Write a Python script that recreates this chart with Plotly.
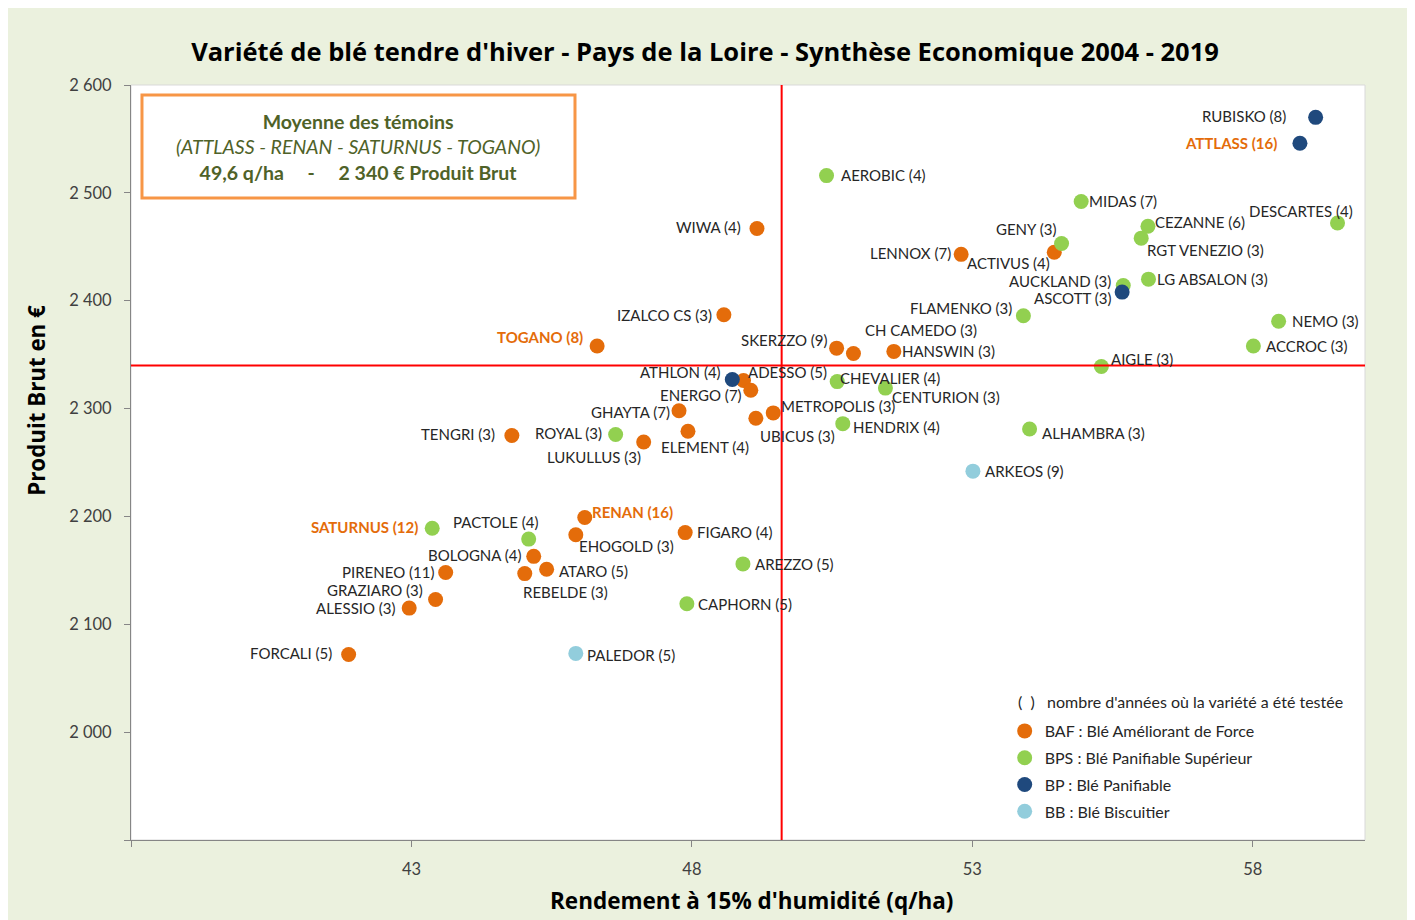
import plotly.graph_objects as go

# ---------------- DATA ----------------
BAF_NAMES = ["WIWA", "IZALCO CS", "TOGANO", "LENNOX", "ACTIVUS", "SKERZZO", "CH CAMEDO",
             "HANSWIN", "ADESSO", "ENERGO", "GHAYTA", "METROPOLIS", "UBICUS", "ELEMENT",
             "LUKULLUS", "TENGRI", "RENAN", "EHOGOLD", "FIGARO", "BOLOGNA", "ATARO",
             "REBELDE", "PIRENEO", "GRAZIARO", "ALESSIO", "FORCALI"]
BAF_YEARS = [4, 3, 8, 7, 4, 9, 3, 3, 5, 7, 7, 3, 3, 4, 3, 3, 16, 3, 4, 4, 5, 3, 11, 3, 3, 5]
BAF_YIELD = [49.16, 48.57, 46.31, 52.80, 54.46, 50.58, 50.88, 51.60, 48.92, 49.05, 47.77,
             49.45, 49.14, 47.93, 47.14, 44.79, 46.09, 45.93, 47.88, 45.18, 45.41, 45.02,
             43.61, 43.43, 42.96, 41.88]
BAF_PB = [2467, 2387, 2358, 2443, 2445, 2356, 2351, 2353, 2326, 2317, 2298, 2296, 2291,
          2279, 2269, 2275, 2199, 2183, 2185, 2163, 2151, 2147, 2148, 2123, 2115, 2072]

BPS_NAMES = ["AEROBIC", "MIDAS", "DESCARTES", "CEZANNE", "RGT VENEZIO", "GENY", "LG ABSALON",
             "AUCKLAND", "FLAMENKO", "NEMO", "ACCROC", "AIGLE", "CHEVALIER", "CENTURION",
             "HENDRIX", "ALHAMBRA", "ROYAL", "SATURNUS", "PACTOLE", "AREZZO", "CAPHORN"]
BPS_YEARS = [4, 7, 4, 6, 3, 3, 3, 3, 3, 3, 3, 3, 4, 3, 4, 3, 3, 12, 4, 5, 5]
BPS_YIELD = [50.40, 54.94, 59.51, 56.13, 56.01, 54.59, 56.14, 55.69, 53.91, 58.46, 58.01,
             55.30, 50.59, 51.45, 50.69, 54.02, 46.64, 43.37, 45.09, 48.91, 47.91]
BPS_PB = [2516, 2492, 2472, 2469, 2458, 2453, 2420, 2414, 2386, 2381, 2358, 2339, 2325,
          2319, 2286, 2281, 2276, 2189, 2179, 2156, 2119]

BP_NAMES = ["RUBISKO", "ATTLASS", "ASCOTT", "ATHLON"]
BP_YEARS = [8, 16, 3, 4]
BP_YIELD = [59.12, 58.84, 55.67, 48.72]
BP_PB = [2570, 2546, 2408, 2327]

BB_NAMES = ["ARKEOS", "PALEDOR"]
BB_YEARS = [9, 5]
BB_YIELD = [53.01, 45.93]
BB_PB = [2242, 2073]

TEMOINS = ["ATTLASS", "RENAN", "SATURNUS", "TOGANO"]
MEAN_YIELD = 49.6
MEAN_PB = 2340

X_TICKS = [38, 43, 48, 53, 58]
X_TICK_TEXT = ["", "43", "48", "53", "58"]
Y_TICKS = [1900, 2000, 2100, 2200, 2300, 2400, 2500, 2600]
Y_TICK_TEXT = ["", "2 000", "2 100", "2 200", "2 300", "2 400", "2 500", "2 600"]

# ---------------- STYLE ----------------
FONT = "Lato"
BOLD_FONT = "Open Sans"
TXT = "#262626"
ORANGE_TXT = "#E46C0A"
COLORS = {"BAF": "#E46C0A", "BPS": "#92D050", "BP": "#1F497D", "BB": "#92CDDC"}
LEGEND_NAMES = {"BAF": "BAF : Blé Améliorant de Force",
                "BPS": "BPS : Blé Panifiable Supérieur",
                "BP": "BP : Blé Panifiable",
                "BB": "BB : Blé Biscuitier"}

# label placement relative to its point: (anchor, xshift px, yshift px)
LABEL_POS = {
    "WIWA": ("right", -15, 1), "IZALCO CS": ("right", -11, 0), "TOGANO": ("right", -13, 9),
    "LENNOX": ("right", -9, 1), "ACTIVUS": ("right", -3, -11), "SKERZZO": ("right", -8, 8),
    "CH CAMEDO": ("left", 11, 24), "HANSWIN": ("left", 7, 0), "ADESSO": ("left", 3, 9),
    "ENERGO": ("right", -8, -5), "GHAYTA": ("right", -8, -1), "METROPOLIS": ("left", 7, 7),
    "UBICUS": ("left", 3, -18), "ELEMENT": ("left", -28, -16), "LUKULLUS": ("right", -2, -15),
    "TENGRI": ("right", -16, 2), "RENAN": ("left", 6, 6), "EHOGOLD": ("left", 2, -11),
    "FIGARO": ("left", 11, 1), "BOLOGNA": ("right", -11, 1), "ATARO": ("left", 11, -2),
    "REBELDE": ("left", -3, -18), "PIRENEO": ("right", -11, 1), "GRAZIARO": ("right", -12, 9),
    "ALESSIO": ("right", -12, 0), "FORCALI": ("right", -16, 1),
    "AEROBIC": ("left", 13, 1), "MIDAS": ("left", 7, 0), "DESCARTES": ("right", 16, 12),
    "CEZANNE": ("left", 6, 4), "RGT VENEZIO": ("left", 5, -12), "GENY": ("right", -5, 15),
    "LG ABSALON": ("left", 8, 0), "AUCKLAND": ("right", -11, 5), "FLAMENKO": ("right", -10, 8),
    "NEMO": ("left", 12, 0), "ACCROC": ("left", 12, 0), "AIGLE": ("left", 9, 8),
    "CHEVALIER": ("left", 2, 4), "CENTURION": ("left", 6, -9), "HENDRIX": ("left", 9, -3),
    "ALHAMBRA": ("left", 11, -4), "ROYAL": ("right", -13, 1), "SATURNUS": ("right", -13, 1),
    "PACTOLE": ("center", -33, 17), "AREZZO": ("left", 11, 0), "CAPHORN": ("left", 10, 0),
    "RUBISKO": ("right", -29, 1), "ATTLASS": ("right", -22, 0), "ASCOTT": ("right", -10, -6),
    "ATHLON": ("right", -10, 7),
    "ARKEOS": ("left", 11, 0), "PALEDOR": ("left", 10, -2),
}

GROUPS = [
    ("BAF", BAF_NAMES, BAF_YEARS, BAF_YIELD, BAF_PB),
    ("BPS", BPS_NAMES, BPS_YEARS, BPS_YIELD, BPS_PB),
    ("BP", BP_NAMES, BP_YEARS, BP_YIELD, BP_PB),
    ("BB", BB_NAMES, BB_YEARS, BB_YIELD, BB_PB),
]

fig = go.Figure()
annotations = []
for key, names, years, xs, ys in GROUPS:
    labels = [f"{n} ({y})" for n, y in zip(names, years)]
    fig.add_trace(go.Scatter(
        x=xs, y=ys, mode="markers", name=LEGEND_NAMES[key], legendgroup=key,
        marker=dict(color=COLORS[key], size=15, line=dict(width=0)),
        text=labels, hoverinfo="text"))
    for n, lab, x, y in zip(names, labels, xs, ys):
        anchor, dx, dy = LABEL_POS[n]
        tem = n in TEMOINS
        annotations.append(dict(
            x=x, y=y, xref="x", yref="y", text=f"<b>{lab}</b>" if tem else lab,
            showarrow=False, xanchor=anchor, yanchor="middle", xshift=dx, yshift=dy,
            borderpad=0,
            font=dict(family=FONT, size=15, color=ORANGE_TXT if tem else TXT)))

# summary box text
annotations.append(dict(
    xref="paper", yref="paper", x=0.184, y=0.9179, xanchor="center", yanchor="middle",
    showarrow=False, align="center",
    text="<b>Moyenne des témoins</b><br><i>(ATTLASS - RENAN - SATURNUS - TOGANO)</i><br>"
         "<b>49,6 q/ha     -     2 340 € Produit Brut</b>",
    font=dict(family=FONT, size=19.5, color="#4F6228")))

# legend heading
annotations.append(dict(
    xref="paper", yref="paper", x=0.7175, y=0.1841, xanchor="left", yanchor="middle",
    showarrow=False, text="(  )   nombre d'années où la variété a été testée",
    font=dict(family=FONT, size=16, color=TXT)))

# axis titles
annotations.append(dict(
    xref="paper", yref="paper", x=-0.0762, y=0.583, xanchor="center", yanchor="middle",
    showarrow=False, textangle=-90, text="<b>Produit Brut en €</b>",
    font=dict(family=BOLD_FONT, size=22.3, color="#000000")))
annotations.append(dict(
    xref="paper", yref="paper", x=0.503, y=-0.0795, xanchor="center", yanchor="middle",
    showarrow=False, text="<b>Rendement à 15% d'humidité (q/ha)</b>",
    font=dict(family=BOLD_FONT, size=22.5, color="#000000")))

shapes = [
    # plot area frame
    dict(type="rect", xref="paper", yref="paper", x0=0, x1=1, y0=0, y1=1,
         line=dict(color="#D9D9D9", width=1), layer="below"),
    # mean lines
    dict(type="line", xref="x", yref="paper", x0=MEAN_YIELD, x1=MEAN_YIELD, y0=0, y1=1,
         line=dict(color="#FF0000", width=2)),
    dict(type="line", xref="paper", yref="y", x0=0, x1=1, y0=MEAN_PB, y1=MEAN_PB,
         line=dict(color="#FF0000", width=2)),
    # summary box
    dict(type="rect", xref="paper", yref="paper", x0=0.0089, x1=0.3598, y0=0.8503, y1=0.9868,
         line=dict(color="#F79646", width=3), fillcolor="white"),
]

W, H = 1402, 912
fig.update_layout(
    width=W, height=H,
    margin=dict(l=123, r=45, t=77, b=80),
    paper_bgcolor="#EBF1DE", plot_bgcolor="white",
    title=dict(text="<b>Variété de blé tendre d'hiver - Pays de la Loire - Synthèse Economique 2004 - 2019</b>",
               x=697 / W, xanchor="center", y=1 - 44 / H, yanchor="middle",
               font=dict(family=BOLD_FONT, size=25.5, color="#000000")),
    font=dict(family=FONT, size=15, color=TXT),
    xaxis=dict(range=[38, 60], tickvals=X_TICKS, ticktext=X_TICK_TEXT, showgrid=False,
               zeroline=False, showline=True, linecolor="#868686", linewidth=1,
               ticks="outside", ticklen=6, tickcolor="#868686", ticklabelstandoff=8,
               tickfont=dict(family=FONT, size=16.5, color="#404040")),
    yaxis=dict(range=[1900, 2600], tickvals=Y_TICKS, ticktext=Y_TICK_TEXT, showgrid=False,
               zeroline=False, showline=True, linecolor="#868686", linewidth=1,
               ticks="outside", ticklen=6, tickcolor="#868686", ticklabelstandoff=9,
               tickfont=dict(family=FONT, size=16.5, color="#404040")),
    showlegend=True,
    legend=dict(x=0.708, y=0.1669, xanchor="left", yanchor="top", bgcolor="rgba(0,0,0,0)",
                tracegroupgap=3, itemclick=False,
                font=dict(family=FONT, size=16, color=TXT)),
    annotations=annotations,
    shapes=shapes,
)

fig.write_html("out.html")
